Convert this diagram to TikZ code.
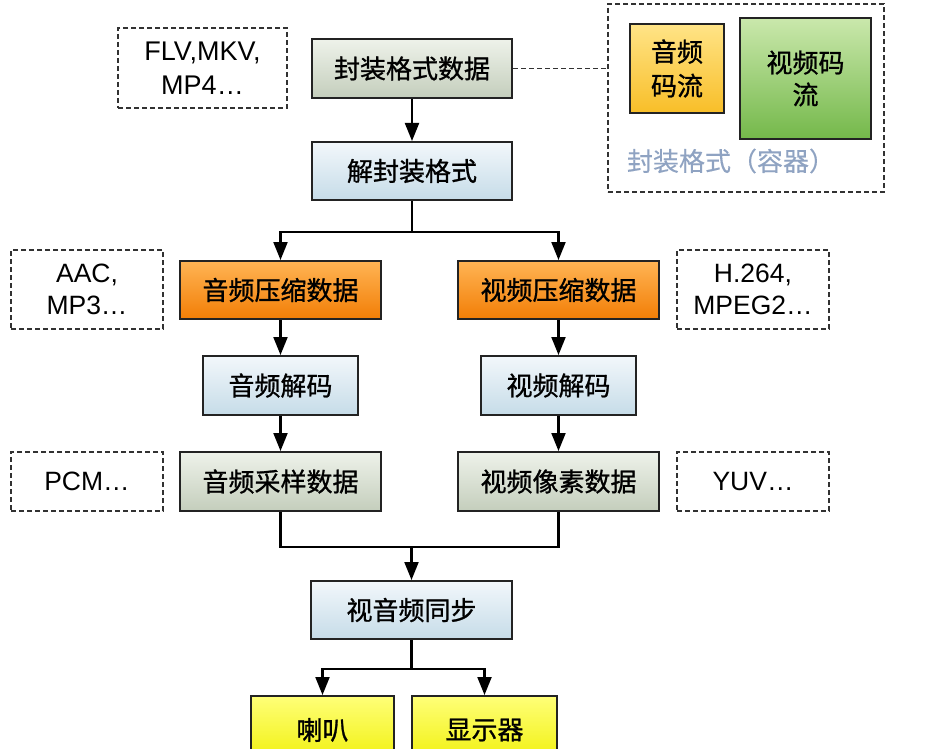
\documentclass[tikz,border=0pt]{standalone}
\usepackage{fontspec}
\setmainfont{Liberation Sans}
\newfontfamily\cjk{Noto Sans CJK SC}[FakeBold=1.0]
\newfontfamily\cjklight{Noto Sans CJK SC}[FakeBold=0.3]
\usetikzlibrary{arrows.meta}
\definecolor{boxline}{RGB}{35,35,35}
\definecolor{dline}{RGB}{50,50,50}
\definecolor{gtop}{RGB}{238,242,234}
\definecolor{gbot}{RGB}{196,206,188}
\definecolor{btop}{RGB}{242,247,251}
\definecolor{bbot}{RGB}{198,220,232}
\definecolor{otop}{RGB}{255,180,84}
\definecolor{obot}{RGB}{242,126,6}
\definecolor{ytop}{RGB}{255,255,120}
\definecolor{ybot}{RGB}{240,240,10}
\definecolor{atop}{RGB}{255,228,135}
\definecolor{abot}{RGB}{248,190,40}
\definecolor{vtop}{RGB}{202,232,172}
\definecolor{vbot}{RGB}{116,184,74}
\definecolor{labelc}{RGB}{143,163,194}
\begin{document}
\begin{tikzpicture}[x=1pt,y=-1pt,
  box/.style={draw=boxline, line width=2pt, inner sep=0pt, align=center,
    font=\cjk\fontsize{26}{32}\selectfont},
  gbox/.style={box, top color=gtop, bottom color=gbot},
  bbox/.style={box, top color=btop, bottom color=bbot},
  obox/.style={box, top color=otop, bottom color=obot},
  ybox/.style={box, top color=ytop, bottom color=ybot},
  dbox/.style={draw=dline, dash pattern=on 5pt off 3pt, line width=1.8pt,
    inner sep=0pt, align=center, font=\fontsize{26.5}{32}\selectfont},
  conn/.style={draw=black, line width=2.1pt},
  arr/.style={conn, -{Triangle[length=18pt,width=14pt]}}]
\useasboundingbox (0,0) rectangle (939,749);
\clip (0,0) rectangle (939,749);
\fill[white] (0,0) rectangle (939,749);

% top row
\node[dbox, minimum width=169, minimum height=80, font=\fontsize{27}{34}\selectfont] (fmt) at (202.5,68) {FLV,MKV,\\MP4…};
\node[gbox, minimum width=200, minimum height=59] (pack) at (412,68.5) {封装格式数据};
\node[bbox, minimum width=200, minimum height=58] (demux) at (412,171) {解封装格式};
\node[dbox, minimum width=276, minimum height=188] (cont) at (746,98) {};
\node[box, top color=atop, bottom color=abot, minimum width=94, minimum height=89, font=\cjk\fontsize{26}{34}\selectfont] (astream) at (677,68.5) {音频\\码流};
\node[box, top color=vtop, bottom color=vbot, minimum width=131, minimum height=121] (vstream) at (805.5,78.5) {视频码\\流};
\node[font=\cjklight\fontsize{26}{32}\selectfont, text=labelc, inner sep=0pt] (clab) at (731,161) {封装格式（容器）};

% compressed
\node[dbox, minimum width=152, minimum height=79] (acodec) at (87,289.5) {AAC,\\MP3…};
\node[obox, minimum width=201, minimum height=58] (acomp) at (280.5,290) {音频压缩数据};
\node[obox, minimum width=201, minimum height=58] (vcomp) at (558.5,290) {视频压缩数据};
\node[dbox, minimum width=152, minimum height=79] (vcodec) at (753,289.5) {H.264,\\MPEG2…};

% decode
\node[bbox, minimum width=155, minimum height=59] (adec) at (280.5,385.5) {音频解码};
\node[bbox, minimum width=155, minimum height=59] (vdec) at (558.5,385.5) {视频解码};

% raw
\node[dbox, minimum width=152, minimum height=59] (pcm) at (87,481.5) {PCM…};
\node[gbox, minimum width=201, minimum height=59] (asamp) at (280.5,481.5) {音频采样数据};
\node[gbox, minimum width=201, minimum height=59] (vsamp) at (558.5,481.5) {视频像素数据};
\node[dbox, minimum width=152, minimum height=59] (yuv) at (753,481.5) {YUV…};

% sync and outputs
\node[bbox, minimum width=201, minimum height=58] (sync) at (411.5,610) {视音频同步};
\node[ybox, minimum width=143, minimum height=68] (spk) at (322.5,730) {喇叭};
\node[ybox, minimum width=145, minimum height=68] (disp) at (484.5,730) {显示器};

% connectors
\draw[draw=dline, dash pattern=on 5pt off 3pt, line width=1.8pt] (pack.east) -- (pack.east -| cont.west);
\draw[arr] (pack) -- (demux);
\coordinate (s1) at ([yshift=-31pt]demux.south);
\draw[conn] (demux.south) -- (s1);
\draw[arr] (s1) -| (acomp.north);
\draw[arr] (s1) -| (vcomp.north);
\draw[arr] (acomp) -- (adec);
\draw[arr] (adec) -- (asamp);
\draw[arr] (vcomp) -- (vdec);
\draw[arr] (vdec) -- (vsamp);
\coordinate (j) at (411.5,547);
\draw[conn] (asamp.south) |- (j) -| (vsamp.south);
\draw[arr] (j) -- (sync.north);
\coordinate (s2) at ([yshift=-29pt]sync.south);
\draw[conn] (sync.south) -- (s2);
\draw[arr] (s2) -| (spk.north);
\draw[arr] (s2) -| (disp.north);
\end{tikzpicture}
\end{document}
